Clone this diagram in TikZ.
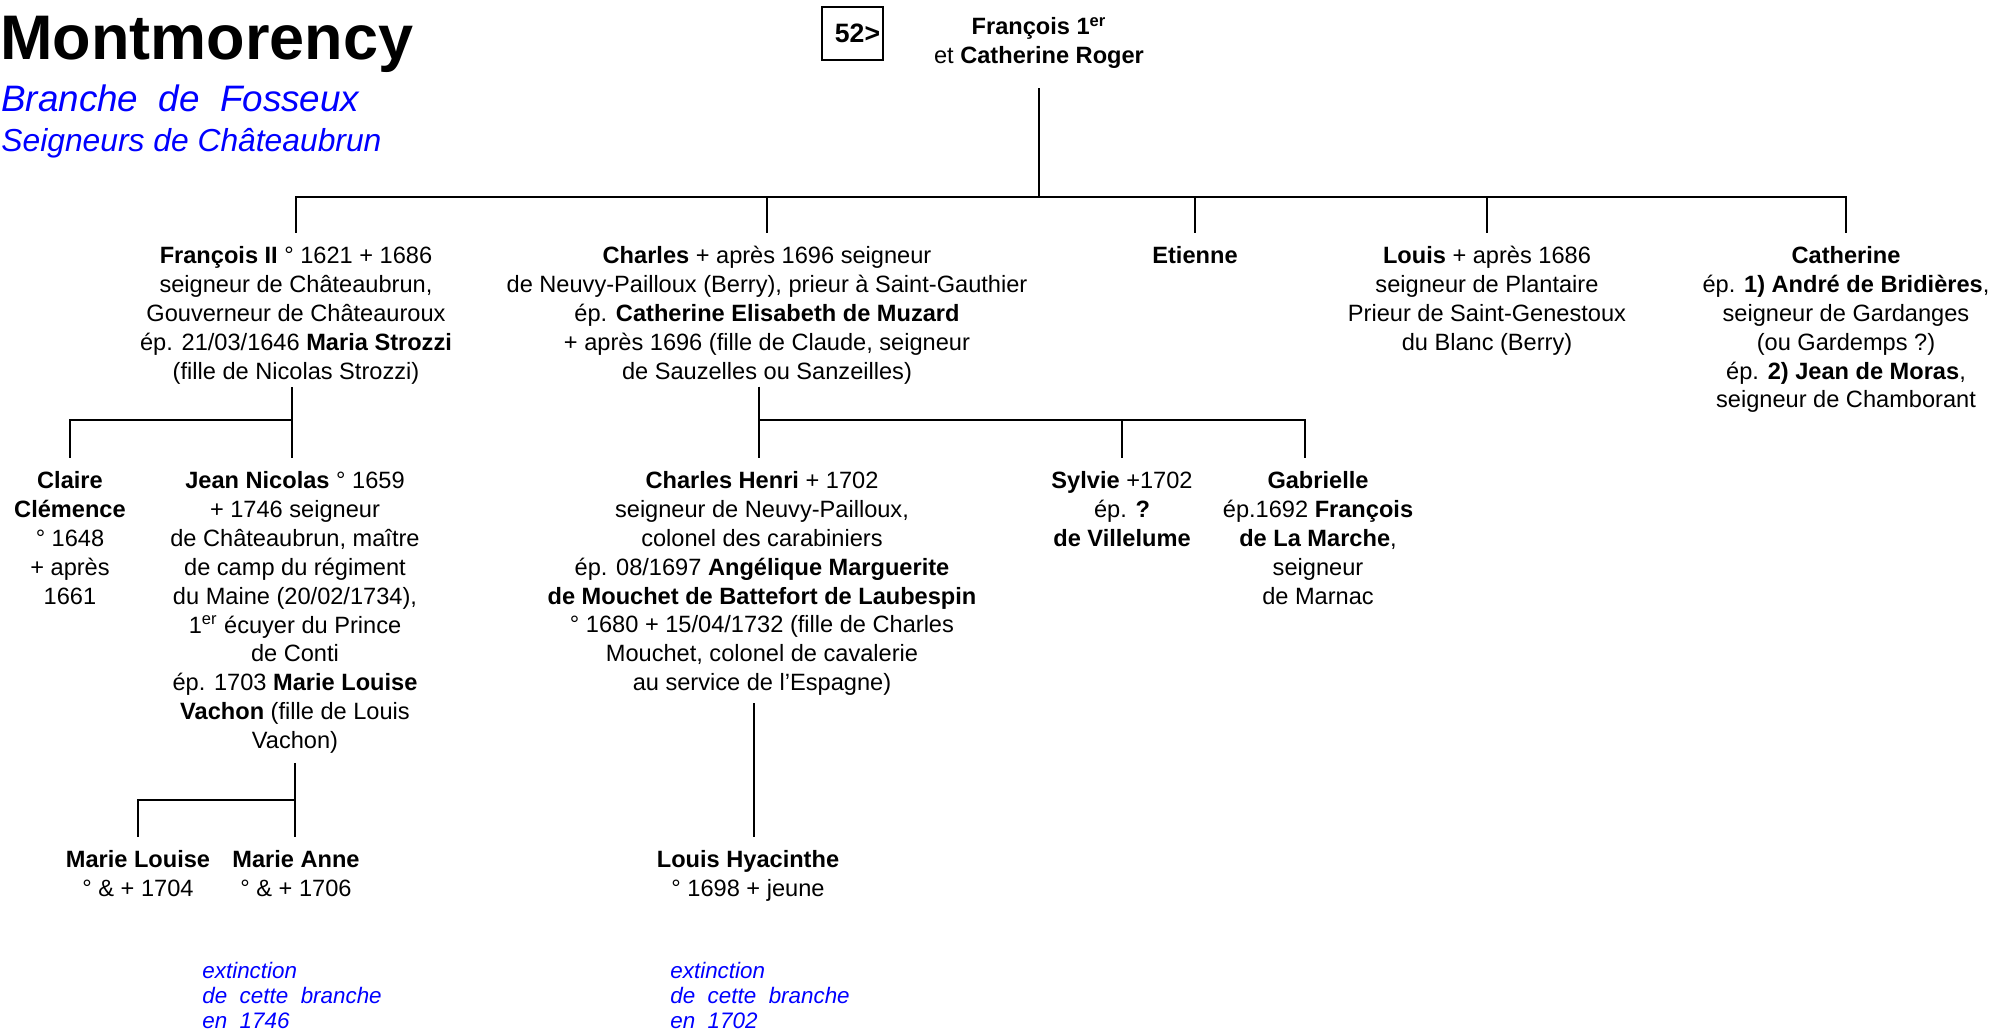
\documentclass[tikz,border=0pt]{standalone}
\usepackage{fontspec}
\setmainfont{Liberation Sans}
\definecolor{bleubranche}{RGB}{0,0,255}
\tikzset{
    lien/.style={line width=1.3pt},
    perso/.style={anchor=north, align=center, inner xsep=0pt, inner ysep=6.5pt,
        font=\fontsize{11.8}{14.45}\selectfont},
    titre/.style={anchor=base west, inner sep=0pt, font=\fontsize{31.5}{36}\selectfont\bfseries},
    soustitre/.style={anchor=base west, inner sep=0pt, text=bleubranche},
    extinction/.style={anchor=north west, align=left, inner sep=0pt, text=bleubranche,
        font=\fontsize{11.2}{12.5}\selectfont\itshape},
    renvoi/.style={draw, line width=1.3pt, minimum width=30.5pt, minimum height=26.5pt,
        inner sep=0pt, font=\fontsize{13.3}{15}\selectfont\bfseries},
}
\begin{document}
\begin{tikzpicture}[x=0.5pt, y=-0.5pt]
        \useasboundingbox (0,0) rectangle (2009,1031);

        % Titre
        \node[titre] (titre) at (0,60) {Montmorency};
        \node[soustitre, font=\fontsize{18.4}{22}\selectfont\itshape] (branche) at (1,112) {Branche\ \ de\ \ Fosseux};
        \node[soustitre, font=\fontsize{15.9}{19}\selectfont\itshape] (seigneurs) at (1,152) {Seigneurs de Châteaubrun};
        \node[renvoi] (renvoi) at (852.5,33.5) {\hspace{5pt}52>};

        % Parents
        \node[perso] (pere) at (1039,4) {\textbf{François 1\textsuperscript{er}}\\et \textbf{Catherine Roger}};

        % Enfants
        \node[perso] (francois) at (296,233) {\textbf{François II} ° 1621 + 1686\\seigneur de Châteaubrun,\\
            Gouverneur de Châteauroux\\ép. 21/03/1646 \textbf{Maria Strozzi}\\(fille de Nicolas Strozzi)};
        \node[perso] (charles) at (767,233) {\textbf{Charles} + après 1696 seigneur\\
            de Neuvy-Pailloux (Berry), prieur à Saint-Gauthier\\ép. \textbf{Catherine Elisabeth de Muzard}\\
            + après 1696 (fille de Claude, seigneur\\de Sauzelles ou Sanzeilles)};
        \node[perso] (etienne) at (1195,233) {\textbf{Etienne}};
        \node[perso] (louis) at (1487,233) {\textbf{Louis} + après 1686\\seigneur de Plantaire\\
            Prieur de Saint-Genestoux\\du Blanc (Berry)};
        \node[perso] (catherine) at (1846,233) {\textbf{Catherine}\\ép. \textbf{1) André de Bridières},\\
            seigneur de Gardanges\\(ou Gardemps ?)\\ép. \textbf{2) Jean de Moras},\\seigneur de Chamborant};

        % Petits-enfants
        \node[perso] (claire) at (70,458) {\textbf{Claire}\\\textbf{Clémence}\\° 1648\\+ après\\1661};
        \node[perso] (jean) at (295,458) {\textbf{Jean Nicolas} ° 1659\\+ 1746 seigneur\\
            de Châteaubrun, maître\\de camp du régiment\\du Maine (20/02/1734),\\
            1\textsuperscript{er} écuyer du Prince\\de Conti\\ép. 1703 \textbf{Marie Louise}\\
            \textbf{Vachon} (fille de Louis\\Vachon)};
        \node[perso] (charlesh) at (762,458) {\textbf{Charles Henri} + 1702\\seigneur de Neuvy-Pailloux,\\
            colonel des carabiniers\\ép. 08/1697 \textbf{Angélique Marguerite}\\
            \textbf{de Mouchet de Battefort de Laubespin}\\° 1680 + 15/04/1732 (fille de Charles\\
            Mouchet, colonel de cavalerie\\au service de l’Espagne)};
        \node[perso] (sylvie) at (1122,458) {\textbf{Sylvie} +1702\\ép. \textbf{?}\\\textbf{de Villelume}};
        \node[perso] (gabrielle) at (1318,458) {\textbf{Gabrielle}\\ép.1692 \textbf{François}\\
            \textbf{de La Marche},\\seigneur\\de Marnac};

        % Arrière-petits-enfants
        \node[perso] (mlouise) at (138,837) {\textbf{Marie Louise}\\° \& + 1704};
        \node[perso] (manne) at (296,837) {\textbf{Marie Anne}\\° \& + 1706};
        \node[perso] (hyacinthe) at (748,837) {\textbf{Louis Hyacinthe}\\° 1698 + jeune};

        \node[extinction] (fin1) at (202,962) {extinction\\de\ \ cette\ \ branche\\en\ \ 1746};
        \node[extinction] (fin2) at (670,962) {extinction\\de\ \ cette\ \ branche\\en\ \ 1702};

        % Liens
        \coordinate (f0) at (1038,197);
        \draw[lien, shorten <=3pt] (pere.south) -- (pere.south |- f0);
        \draw[lien] (francois.north) |- (f0) -| (catherine.north);
        \foreach \enfant in {charles, etienne, louis} {
            \draw[lien] (\enfant.north |- f0) -- (\enfant.north);
        }

        \coordinate (f1) at (292,420);
        \draw[lien, shorten <=-5pt] (francois.south -| f1) -- (f1) -| (claire.north);
        \draw[lien] (f1) -- (f1 |- jean.north);

        \coordinate (f2) at (759,420);
        \draw[lien, shorten <=-5.5pt] (charles.south -| f2) -- (f2) -| ([xshift=-6.5pt]gabrielle.north);
        \draw[lien] (f2) -- (f2 |- charlesh.north);
        \draw[lien] (sylvie.north |- f2) -- (sylvie.north);

        \coordinate (f3) at ([xshift=3pt]hyacinthe.north);
        \draw[lien, shorten <=-3pt] (charlesh.south -| f3) -- (f3);

        \coordinate (f4) at (295,800);
        \draw[lien, shorten <=-2pt] (jean.south -| f4) -- (f4) -| (mlouise.north);
        \draw[lien] (f4) -- (f4 |- manne.north);
    \end{tikzpicture}
\end{document}
